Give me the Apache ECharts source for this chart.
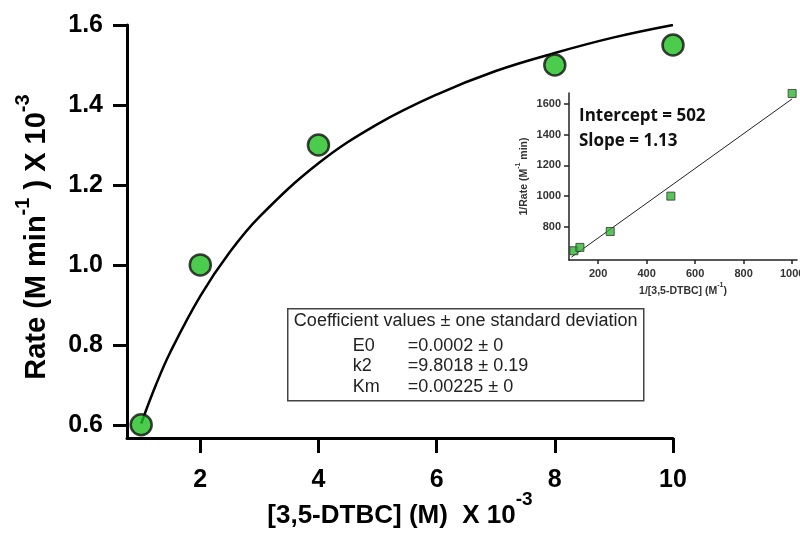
<!DOCTYPE html>
<html>
<head>
<meta charset="utf-8">
<script src="https://cdn.jsdelivr.net/npm/echarts@6/dist/echarts.min.js"></script>
<style>
  html, body { margin: 0; padding: 0; background: #ffffff; }
  #chart { width: 800px; height: 535px; }
</style>
</head>
<body>
<div id="chart"></div>
<script>
// Initial rate vs. substrate concentration (both scaled by 10^-3)
const substrate = [1, 2, 4, 8, 10];
const rate = [0.60, 1.00, 1.30, 1.50, 1.55];

// Michaelis-Menten fit curve, sampled along the substrate range
const fitSubstrate = [1, 1.25, 1.5, 2, 2.5, 3, 4, 5, 6, 7, 8, 9, 10];
const fitRate = [0.603, 0.700, 0.784, 0.922, 1.032, 1.120, 1.254, 1.352, 1.426, 1.485, 1.530, 1.569, 1.600];

const mainXTicks = [2, 4, 6, 8, 10];
const mainYTicks = [0.6, 0.8, 1.0, 1.2, 1.4, 1.6];

// Lineweaver-Burk (double reciprocal) inset
const invSubstrate = [100, 125, 250, 500, 1000];
const invRate = [645, 667, 770, 1000, 1667];
const insetXTicks = [200, 400, 600, 800, 1000];
const insetYTicks = [800, 1000, 1200, 1400, 1600];
const lbIntercept = 502;
const lbSlope = 1.13;
const lbRange = [90, 1000];

// Fitted coefficients
const coefTitle = 'Coefficient values \u00b1 one standard deviation';
const coefNames = ['E0', 'k2', 'Km'];
const coefValues = ['=0.0002 \u00b1 0', '=9.8018 \u00b1 0.19', '=0.00225 \u00b1 0'];

const green = '#1fbf1f';
const mainFont = '"Liberation Sans", Arial, sans-serif';

const zip = (a, b) => a.map((v, i) => [v, b[i]]);
const lbLine = lbRange.map(x => [x, lbIntercept + lbSlope * x]);

const chart = echarts.init(document.getElementById('chart'), null, { renderer: 'canvas' });

// Rich styles: a tall main token keeps the baseline low so the superscript can sit at the top
const xNameRich = {
  m: { fontSize: 26, fontWeight: 'bold', fontFamily: mainFont, color: '#000', lineHeight: 52 },
  sup: { fontSize: 19, fontWeight: 'bold', fontFamily: mainFont, color: '#000', verticalAlign: 'top', lineHeight: 20 }
};
const yNameRich = {
  m: { fontSize: 29, fontWeight: 'bold', fontFamily: mainFont, color: '#000', lineHeight: 48 },
  sup: { fontSize: 20, fontWeight: 'bold', fontFamily: mainFont, color: '#000', verticalAlign: 'top', lineHeight: 24 }
};
const smallRich = {
  m: { fontSize: 10.5, fontWeight: 'bold', fontFamily: mainFont, color: '#333', lineHeight: 18 },
  sup: { fontSize: 7, fontWeight: 'bold', fontFamily: mainFont, color: '#333', verticalAlign: 'top', lineHeight: 7 }
};

const option = {
  backgroundColor: '#ffffff',
  animation: false,
  grid: [
    { left: 127, right: 127, top: 25, bottom: 97, containLabel: false, outerBoundsMode: 'none' },
    { left: 569, right: 3, top: 93, bottom: 275, containLabel: false, outerBoundsMode: 'none' }
  ],
  xAxis: [
    {
      gridIndex: 0, type: 'value', min: 0.76, max: 10,
      name: '{m|[3,5-DTBC] (M)  X 10}{sup|-3}',
      nameLocation: 'middle', nameGap: 52, nameMoveOverlap: false,
      nameTextStyle: { rich: xNameRich },
      axisLine: { lineStyle: { color: '#000', width: 3 } },
      axisTick: { show: true, length: 15, lineStyle: { color: '#000', width: 3 }, customValues: mainXTicks },
      axisLabel: { fontSize: 25, fontWeight: 'bold', fontFamily: mainFont, color: '#000', margin: 30, customValues: mainXTicks },
      splitLine: { show: false }
    },
    {
      gridIndex: 1, type: 'value', min: 80, max: 1020,
      name: '{m|1/[3,5-DTBC] (M}{sup|-1}{m|)}',
      nameLocation: 'middle', nameGap: 22, nameMoveOverlap: false,
      nameTextStyle: { rich: smallRich },
      axisLine: { lineStyle: { color: '#222', width: 1.5 } },
      axisTick: { show: true, length: 4, lineStyle: { color: '#222', width: 1.5 }, customValues: insetXTicks },
      axisLabel: { fontSize: 11, fontWeight: 'bold', fontFamily: mainFont, color: '#333', margin: 8,
        formatter: v => String(v), customValues: insetXTicks },
      splitLine: { show: false }
    }
  ],
  yAxis: [
    {
      gridIndex: 0, type: 'value', min: 0.567, max: 1.6,
      name: '{m|Rate (M min}{sup|-1}{m| ) X 10}{sup|-3  }',
      nameLocation: 'middle', nameGap: 66, nameRotate: 90, nameMoveOverlap: false,
      nameTextStyle: { rich: yNameRich },
      axisLine: { lineStyle: { color: '#000', width: 3 } },
      axisTick: { show: true, length: 14, lineStyle: { color: '#000', width: 3 }, customValues: mainYTicks },
      axisLabel: { fontSize: 25, fontWeight: 'bold', fontFamily: mainFont, color: '#000', margin: 24,
        formatter: v => v.toFixed(1), customValues: mainYTicks },
      splitLine: { show: false }
    },
    {
      gridIndex: 1, type: 'value', min: 585, max: 1670,
      name: '{m|1/Rate (M}{sup|-1}{m| min)}',
      nameLocation: 'middle', nameGap: 36, nameRotate: 90, nameMoveOverlap: false,
      nameTextStyle: { rich: smallRich },
      axisLine: { lineStyle: { color: '#222', width: 1.5 } },
      axisTick: { show: true, length: 5, lineStyle: { color: '#222', width: 1.5 }, customValues: insetYTicks },
      axisLabel: { fontSize: 11, fontWeight: 'bold', fontFamily: mainFont, color: '#333', margin: 8,
        formatter: v => String(v), customValues: insetYTicks },
      splitLine: { show: false }
    }
  ],
  series: [
    {
      type: 'line', xAxisIndex: 0, yAxisIndex: 0,
      data: zip(fitSubstrate, fitRate),
      smooth: 0.4, showSymbol: false, symbol: 'none',
      lineStyle: { color: '#000', width: 2.5 },
      z: 2
    },
    {
      type: 'scatter', xAxisIndex: 0, yAxisIndex: 0,
      data: zip(substrate, rate),
      symbol: 'circle', symbolSize: 21,
      itemStyle: { color: green, borderColor: '#111', borderWidth: 2.5 },
      z: 3
    },
    {
      type: 'line', xAxisIndex: 1, yAxisIndex: 1,
      data: lbLine, showSymbol: false, symbol: 'none',
      lineStyle: { color: '#222', width: 1 },
      z: 2
    },
    {
      type: 'scatter', xAxisIndex: 1, yAxisIndex: 1,
      data: zip(invSubstrate, invRate),
      symbol: 'rect', symbolSize: 8,
      itemStyle: { color: '#2fb52f', borderColor: '#333', borderWidth: 1 },
      z: 3
    }
  ],
  graphic: [
    {
      type: 'text', left: 579, top: 108,
      style: { text: 'Intercept = ' + lbIntercept, font: 'bold 17px "Open Sans", sans-serif', fill: '#111' }
    },
    {
      type: 'text', left: 579, top: 133,
      style: { text: 'Slope = ' + lbSlope.toFixed(2), font: 'bold 17px "Open Sans", sans-serif', fill: '#111' }
    },
    {
      type: 'group', left: 287, top: 308,
      children: [
        { type: 'rect', shape: { x: 0, y: 0, width: 356, height: 92 },
          style: { fill: '#fff', stroke: '#444', lineWidth: 1.5 } },
        { type: 'text', x: 178, y: 12,
          style: { text: coefTitle, font: '18px ' + mainFont, fill: '#222', textAlign: 'center', textVerticalAlign: 'middle' } }
      ].concat(coefNames.map((n, i) => ({
        type: 'text', x: 65, y: 37 + i * 20.5,
        style: { text: n, font: '18px ' + mainFont, fill: '#222', textVerticalAlign: 'middle' }
      }))).concat(coefValues.map((v, i) => ({
        type: 'text', x: 120, y: 37 + i * 20.5,
        style: { text: v, font: '18px ' + mainFont, fill: '#222', textVerticalAlign: 'middle' }
      })))
    }
  ]
};

chart.setOption(option);
</script>
</body>
</html>
